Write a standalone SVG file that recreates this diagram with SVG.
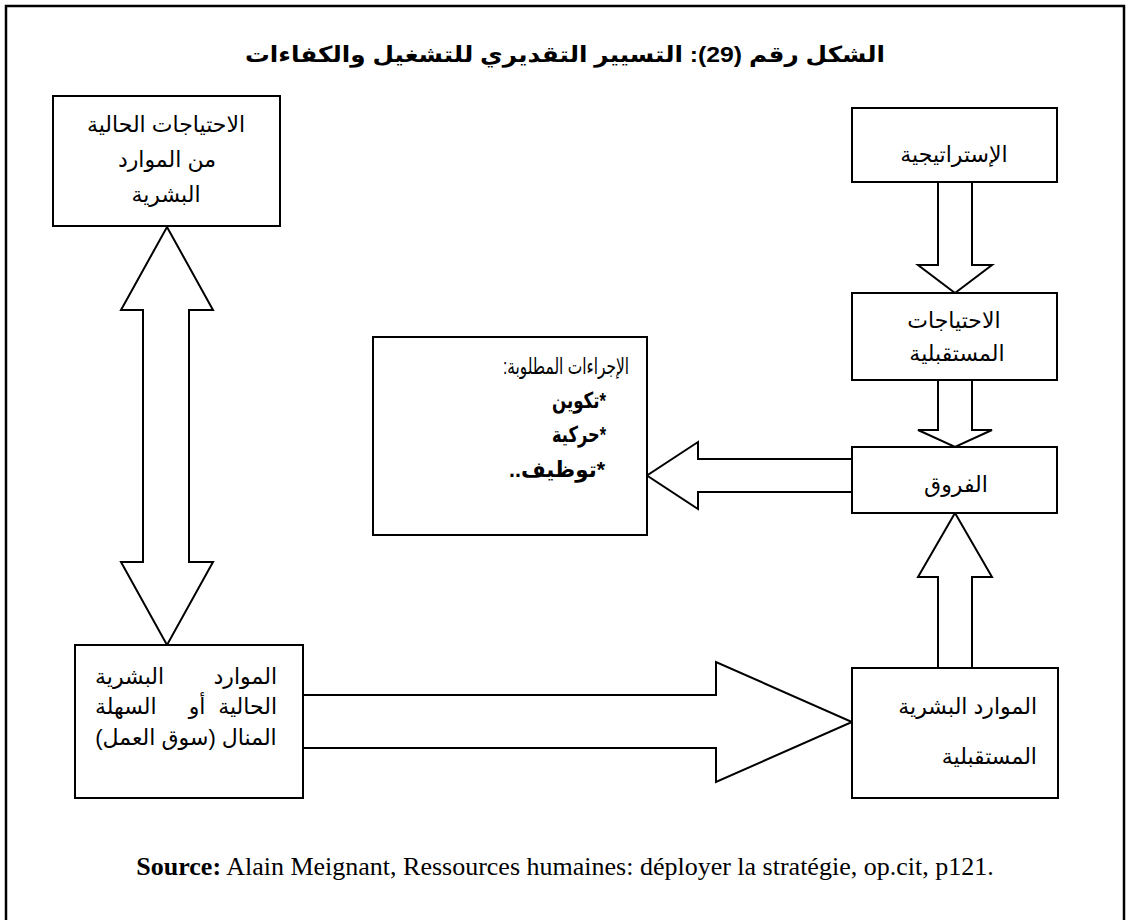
<svg xmlns="http://www.w3.org/2000/svg" width="1128" height="920" viewBox="0 0 1128 920">
<style>
.box{fill:#fff;stroke:#000;stroke-width:2}
.arr{fill:#fff;stroke:#000;stroke-width:2;stroke-linejoin:miter}
.ar{font-family:'Liberation Sans','DejaVu Sans',sans-serif;font-size:22px;fill:#000}
.b{font-weight:bold}
.src{font-family:'Liberation Serif',serif;font-size:26px;fill:#000}
</style>
<rect x="0" y="0" width="1128" height="920" fill="#fff"/>
<rect x="6" y="6" width="1118" height="930" fill="none" stroke="#000" stroke-width="2.5"/>
<text class="ar b" x="565" y="62" font-size="32" text-anchor="middle" direction="rtl" textLength="640" lengthAdjust="spacingAndGlyphs">الشكل رقم (29): التسيير التقديري للتشغيل والكفاءات</text>

<g id="connectors">
<polygon class="arr" points="167,227 213,310 189,310 189,562 213,562 167,645 121,562 143,562 143,310 121,310"/>
<polygon class="arr" points="938,182 938,265 918,265 955,293 992,265 972,265 972,182"/>
<polygon class="arr" points="938,380 938,430 918,430 955,447 992,430 972,430 972,380"/>
<polygon class="arr" points="852,459 698,459 698,442 647,475.5 698,509 698,492 852,492"/>
<polygon class="arr" points="303,695 716,695 716,662 852,722 716,782 716,748 303,748"/>
<polygon class="arr" points="938,668 938,577 918,577 955,513 992,577 972,577 972,668"/>
</g>

<g id="current-needs">
<rect class="box" x="53" y="96" width="227" height="130"/>
<text class="ar" x="166" y="132" font-size="25" text-anchor="middle" direction="rtl">الاحتياجات الحالية</text>
<text class="ar" x="167" y="167" font-size="25" text-anchor="middle" direction="rtl">من الموارد</text>
<text class="ar" x="166" y="202" font-size="25" text-anchor="middle" direction="rtl">البشرية</text>
</g>

<g id="strategy">
<rect class="box" x="852" y="108" width="205" height="74"/>
<text class="ar" x="954" y="162" font-size="23" text-anchor="middle" direction="rtl">الإستراتيجية</text>
</g>

<g id="future-needs">
<rect class="box" x="852" y="293" width="205" height="87"/>
<text class="ar" x="954" y="328" font-size="25" text-anchor="middle" direction="rtl">الاحتياجات</text>
<text class="ar" x="957" y="361" font-size="25" text-anchor="middle" direction="rtl">المستقبلية</text>
</g>

<g id="gaps">
<rect class="box" x="852" y="447" width="205" height="66"/>
<text class="ar" x="956" y="492" text-anchor="middle" direction="rtl">الفروق</text>
</g>

<g id="actions">
<rect class="box" x="373" y="337" width="274" height="198"/>
<text class="ar" x="566" y="374" font-size="21" text-anchor="middle" direction="rtl" textLength="126" lengthAdjust="spacingAndGlyphs">الإجراءات المطلوبة:</text>
<text class="ar b" x="579" y="408" font-size="21" text-anchor="middle" direction="rtl" textLength="54" lengthAdjust="spacingAndGlyphs">*تكوين</text>
<text class="ar b" x="579" y="442" font-size="21" text-anchor="middle" direction="rtl" textLength="54" lengthAdjust="spacingAndGlyphs">*حركية</text>
<text class="ar b" x="557" y="477" font-size="21" text-anchor="middle" direction="rtl" textLength="96" lengthAdjust="spacingAndGlyphs">*توظيف..</text>
</g>

<g id="current-hr">
<rect class="box" x="75" y="645" width="228" height="153"/>
<text class="ar" x="277" y="684" text-anchor="end">الموارد</text>
<text class="ar" x="95" y="684" text-anchor="start">البشرية</text>
<text class="ar" x="277" y="714" text-anchor="end">الحالية</text>
<text class="ar" x="197" y="714" text-anchor="middle">أو</text>
<text class="ar" x="95" y="714" text-anchor="start">السهلة</text>
<text class="ar" x="186" y="745" text-anchor="middle" direction="rtl">المنال (سوق العمل)</text>
</g>

<g id="future-hr">
<rect class="box" x="852" y="668" width="206" height="130"/>
<text class="ar" x="1037" y="714" text-anchor="end">الموارد البشرية</text>
<text class="ar" x="1037" y="764" text-anchor="end">المستقبلية</text>
</g>

<text class="src" x="565" y="875" text-anchor="middle"><tspan font-weight="bold">Source:</tspan> Alain Meignant, Ressources humaines: déployer la stratégie, op.cit, p121.</text>
</svg>
